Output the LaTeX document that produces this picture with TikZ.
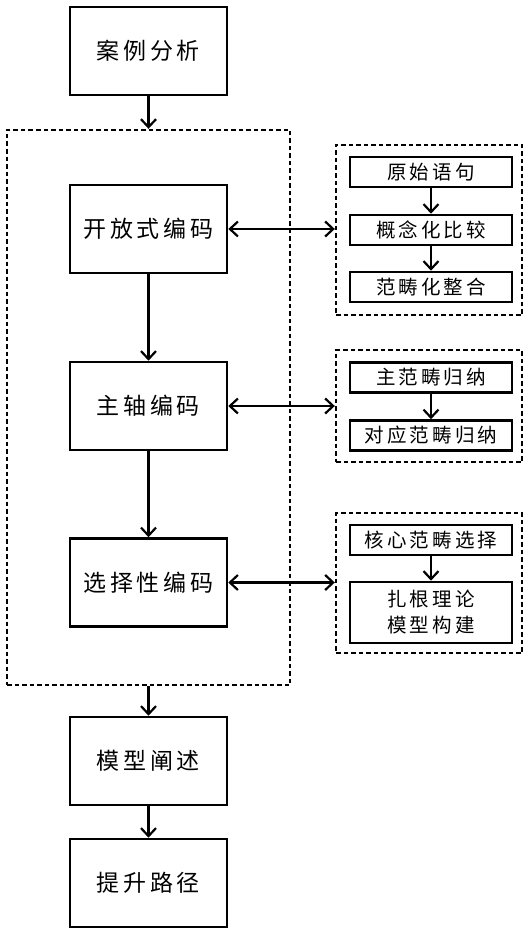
\documentclass[tikz,border=0pt]{standalone}
\usepackage{fontspec}
\setmainfont{Noto Sans CJK SC}[LetterSpace=16]
\usetikzlibrary{arrows.meta}

\begin{document}
\begin{tikzpicture}[x=1pt,y=-1pt,
    stagebox/.style={draw,line width=2.6pt,minimum width=157pt,minimum height=88pt,inner sep=0pt,font=\fontsize{23}{28}\selectfont},
    stepbox/.style={draw,line width=2.6pt,minimum width=162pt,minimum height=30pt,inner sep=0pt,font=\fontsize{19.5}{26}\selectfont},
    groupbox/.style={draw,line width=2.4pt,dash pattern=on 4.5pt off 3pt,inner sep=0pt},
    flow/.style={line width=2.2pt,-{Straight Barb[length=8pt,width=15pt,line width=2.2pt]}},
    link/.style={line width=2.2pt,{Straight Barb[length=8pt,width=15pt,line width=2.2pt]}-{Straight Barb[length=8pt,width=15pt,line width=2.2pt]}}]

    \useasboundingbox (0,0) rectangle (528,952);

    % Main stages on the left
    \node[stagebox] (case) at (148.5,51) {案例分析};
    \node[groupbox,minimum width=283pt,minimum height=555pt] (coding) at (148.5,407.5) {};
    \node[stagebox] (open) at (148.5,229) {开放式编码};
    \node[stagebox] (axis) at (148.5,406) {主轴编码};
    \node[stagebox] (select) at (148.5,582.5) {选择性编码};
    \node[stagebox] (model) at (148.5,761) {模型阐述};
    \node[stagebox] (path) at (148.5,883) {提升路径};

    % Steps of each coding stage on the right
    \node[groupbox,minimum width=186pt,minimum height=170pt] (openg) at (429,230) {};
    \node[stepbox] (raw) at (431,172) {原始语句};
    \node[stepbox] (concept) at (431,230) {概念化比较};
    \node[stepbox] (categ) at (431,287) {范畴化整合};

    \node[groupbox,minimum width=186pt,minimum height=112pt] (axisg) at (429,406) {};
    \node[stepbox] (mainc) at (431,377.5) {主范畴归纳};
    \node[stepbox] (corr) at (431,435.5) {对应范畴归纳};

    \node[groupbox,minimum width=186pt,minimum height=140pt] (selectg) at (429,583) {};
    \node[stepbox] (core) at (431,540) {核心范畴选择};
    \node[stepbox,minimum height=61pt,align=center] (theory) at (431,612.5) {扎根理论\\模型构建};

    % Flow arrows
    \draw[flow] (case) -- (coding.north);
    \draw[flow] (open) -- (axis);
    \draw[flow] (axis) -- (select);
    \draw[flow] (coding.south) -- (model);
    \draw[flow] (model) -- (path);
    \draw[flow] (raw) -- (concept);
    \draw[flow] (concept) -- (categ);
    \draw[flow] (mainc) -- (corr);
    \draw[flow] (core) -- (theory);

    % Links between stages and steps
    \draw[link] (open.east) -- (open.east -| openg.west);
    \draw[link] (axis.east) -- (axis.east -| axisg.west);
    \draw[link] (select.east) -- (select.east -| selectg.west);

\end{tikzpicture}
\end{document}
